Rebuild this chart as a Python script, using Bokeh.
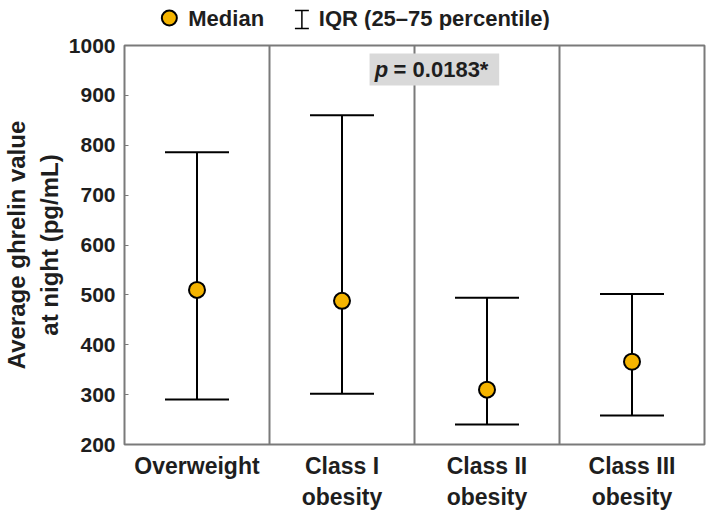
from bokeh.plotting import figure
from bokeh.models import (Range1d, FixedTicker, ColumnDataSource, Whisker, TeeHead,
                          Label, BoxAnnotation, Span)
from bokeh.layouts import column
from bokeh.embed import file_html
from bokeh.resources import INLINE
from bokeh.core.properties import value

# ---- data ----
categories = ["Overweight", "Class I\nobesity", "Class II\nobesity", "Class III\nobesity"]
median = [510, 488, 310, 366]
q1 = [290, 302, 240, 258]
q3 = [786, 860, 494, 502]
y_ticks = [200, 300, 400, 500, 600, 700, 800, 900, 1000]
p_text = "p"
p_value_text = "= 0.0183*"
legend_labels = ["Median", "IQR (25\u201375 percentile)"]

FONT = "Liberation Sans"
YELLOW = "#F5B400"
GRAY = "#7a7a7a"
TXT = "#1e1e1e"

xpos = [i + 0.5 for i in range(len(categories))]
src = ColumnDataSource(dict(x=xpos, med=median, lo=q1, hi=q3))

W = 709
BL, BR = 122, 5
LH = 30  # legend strip height

# ---- legend strip ----
leg = figure(width=W, height=LH, x_range=Range1d(BL, W - BR), y_range=Range1d(0, LH),
             output_backend="svg", toolbar_location=None,
             min_border_left=BL, min_border_right=BR, min_border_top=0, min_border_bottom=0)
leg.axis.visible = False
leg.grid.visible = False
leg.outline_line_color = None
leg.scatter([167], [12.5], size=15, fill_color=YELLOW, line_color="black", line_width=2)
leg.segment([300], [2], [300], [20], line_color="black", line_width=1.5)
leg.segment([293, 293], [2, 20], [307, 307], [2, 20], line_color="black", line_width=1.5)
leg.text([186, 317], [12.5, 12.5], text=legend_labels, text_font=value(FONT),
         text_font_style="bold", text_font_size="22px", text_baseline="middle",
         text_color=TXT)

# ---- main plot ----
p = figure(width=W, height=482, x_range=Range1d(0, 4), y_range=Range1d(200, 1000),
           output_backend="svg", toolbar_location=None,
           min_border_left=BL, min_border_right=BR, min_border_top=15, min_border_bottom=66)
p.grid.visible = False
p.outline_line_color = GRAY
p.outline_line_width = 2

for xd in [1, 2, 3]:
    p.add_layout(Span(location=xd, dimension="height", line_color=GRAY, line_width=2))

p.xaxis.ticker = FixedTicker(ticks=xpos)
p.xaxis.major_label_overrides = {x: c for x, c in zip(xpos, categories)}
p.xaxis.major_tick_line_color = None
p.xaxis.major_tick_in = 0
p.xaxis.major_tick_out = 0
p.xaxis.axis_line_color = None
p.xaxis.major_label_text_font = FONT
p.xaxis.major_label_text_font_style = "bold"
p.xaxis.major_label_text_font_size = "23px"
p.xaxis.major_label_text_color = TXT
p.xaxis.major_label_standoff = 8

p.yaxis.ticker = FixedTicker(ticks=y_ticks)
p.yaxis.minor_tick_line_color = None
p.yaxis.axis_line_color = None
p.yaxis.major_tick_in = 4
p.yaxis.major_tick_out = 0
p.yaxis.major_tick_line_color = GRAY
p.yaxis.major_label_text_font = FONT
p.yaxis.major_label_text_font_style = "bold"
p.yaxis.major_label_text_font_size = "21px"
p.yaxis.major_label_text_color = TXT
p.yaxis.major_label_standoff = 9
p.yaxis.axis_label = "Average ghrelin value\nat night (pg/mL)"
p.yaxis.axis_label_text_font = FONT
p.yaxis.axis_label_text_font_style = "bold"
p.yaxis.axis_label_text_font_size = "24px"
p.yaxis.axis_label_text_color = TXT
p.yaxis.axis_label_standoff = 3

wh = Whisker(source=src, base="x", lower="lo", upper="hi", line_color="black", line_width=2,
             lower_head=TeeHead(size=64, line_color="black", line_width=2),
             upper_head=TeeHead(size=64, line_color="black", line_width=2), level="glyph")
p.add_layout(wh)
p.scatter("x", "med", source=src, size=16, fill_color=YELLOW, line_color="black",
          line_width=2, level="overlay")

# p-value box
p.add_layout(BoxAnnotation(left=1.69, right=2.584, top=984, bottom=920,
                           fill_color="#d9d9d9", fill_alpha=1, line_color=None))
p.add_layout(Label(x=1.725, y=951, text=p_text, text_font=FONT, text_font_style="bold italic",
                   text_font_size="22px", text_baseline="middle", text_color=TXT))
p.add_layout(Label(x=1.856, y=951, text=p_value_text, text_font=FONT, text_font_style="bold",
                   text_font_size="22px", text_baseline="middle", text_color=TXT))

layout = column(leg, p, spacing=0)
open("out.html", "w").write(file_html(layout, INLINE))
